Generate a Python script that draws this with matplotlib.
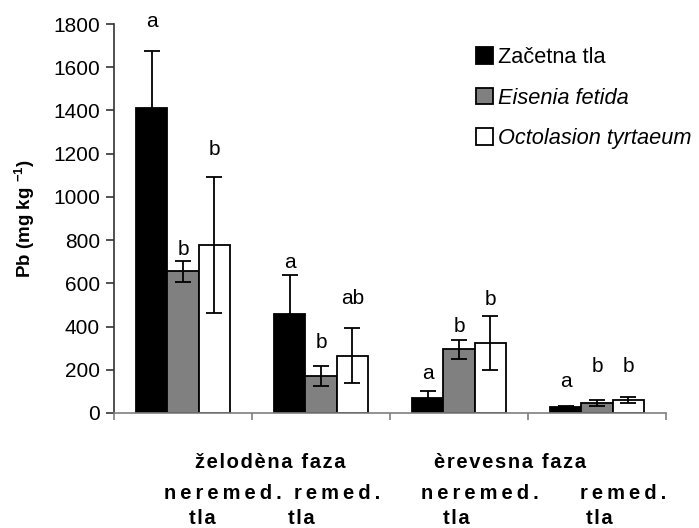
import numpy as np
import matplotlib.pyplot as plt
from matplotlib.transforms import blended_transform_factory

plt.rcParams['font.family'] = ['Liberation Sans', 'DejaVu Sans']
plt.rcParams['mathtext.default'] = 'regular'

# Pb content per soil / earthworm treatment
series = ['Začetna tla', 'Eisenia fetida', 'Octolasion tyrtaeum']
colors = ['black', '#808080', 'white']
pb_mean = [
    [1410, 457, 68, 30],    # Začetna tla
    [655, 170, 294, 47],    # Eisenia fetida
    [777, 266, 322, 60],    # Octolasion tyrtaeum
]
pb_err = [
    [265, 180, 35, 4],
    [48, 47, 42, 14],
    [315, 128, 125, 16],
]
letters = [
    ['a', 'a', 'a', 'a'],
    ['b', 'b', 'b', 'b'],
    ['b', 'ab', 'b', 'b'],
]
letter_y = [
    [1810, 698, 185, 148],
    [755, 327, 398, 213],
    [1217, 532, 523, 213],
]

# multi-level category labels under the x axis
phase_labels = ['želodèna faza', 'èrevesna faza']
phase_x = [0.63, 2.37]
treat_labels = ['neremed.', 'remed.', 'neremed.', 'remed.']
treat_x = [0.29, 1.12, 2.15, 3.19]
soil_labels = ['tla', 'tla', 'tla', 'tla']
soil_x = [0.14, 0.855, 1.98, 3.02]


def spaced(s, sep='\u2009'):
    return sep.join(s)


fig = plt.figure(figsize=(6.99, 5.28), dpi=100)
ax = fig.add_axes([114 / 699, 115 / 528, 552 / 699, 389 / 528])

x = np.arange(4)
w = 0.228
for i in range(3):
    xs = x + (i - 1) * w
    ax.bar(xs, pb_mean[i], w, color=colors[i], edgecolor='black',
           linewidth=1.3, label=series[i], zorder=2)
    ax.errorbar(xs, pb_mean[i], yerr=pb_err[i], fmt='none', ecolor='black',
                elinewidth=1.3, capsize=6, capthick=1.3, zorder=3)
    for j in range(4):
        ax.text(xs[j], letter_y[i][j], letters[i][j], ha='center', va='center',
                fontsize=15, zorder=4)

# stray letter that sits behind the first black bar
ax.text(-0.17, 755, 'b', ha='center', va='center', fontsize=15, zorder=1)

ax.set_xlim(-0.5, 3.5)
ax.set_ylim(0, 1800)
ax.set_yticks(np.arange(0, 1801, 200))
ax.set_xticks([-0.5, 0.5, 1.5, 2.5, 3.5])
ax.set_xticklabels([])
ax.tick_params(axis='y', labelsize=15, direction='out', length=6, width=1.2, pad=4)
ax.tick_params(axis='x', direction='out', length=5, width=1.2, color='#7f7f7f')
for side in ['top', 'right']:
    ax.spines[side].set_visible(False)
ax.spines['left'].set_linewidth(1.2)
ax.spines['left'].set_color('#333333')
ax.tick_params(axis='y', color='#333333')
ax.spines['bottom'].set_color('#7f7f7f')
ax.spines['bottom'].set_linewidth(1.2)

ax.set_ylabel('Pb (mg kg $^{-1}$)', fontsize=13.5, fontweight='bold', labelpad=12)

trans = blended_transform_factory(ax.transData, ax.transAxes)
for lbl, xp in zip(phase_labels, phase_x):
    ax.text(xp, -0.1285, spaced(lbl, '\u200a'), transform=trans, ha='center',
            va='center', fontsize=14.5, fontweight='bold')
for lbl, xp in zip(treat_labels, treat_x):
    ax.text(xp, -0.2057, spaced(lbl), transform=trans, ha='center',
            va='center', fontsize=14.5, fontweight='bold')
for lbl, xp in zip(soil_labels, soil_x):
    ax.text(xp, -0.272, spaced(lbl, '\u200a'), transform=trans, ha='center',
            va='center', fontsize=14.5, fontweight='bold')

leg = ax.legend(loc='upper left', bbox_to_anchor=(476 / 699, 1 - 47 / 528),
                bbox_transform=fig.transFigure, frameon=False, fontsize=15.7,
                handlelength=0.8, handleheight=0.8, handletextpad=0.2,
                labelspacing=0.9, borderpad=0, borderaxespad=0)
for t in leg.get_texts()[1:]:
    t.set_style('italic')

fig.savefig('out.png', dpi=100)
